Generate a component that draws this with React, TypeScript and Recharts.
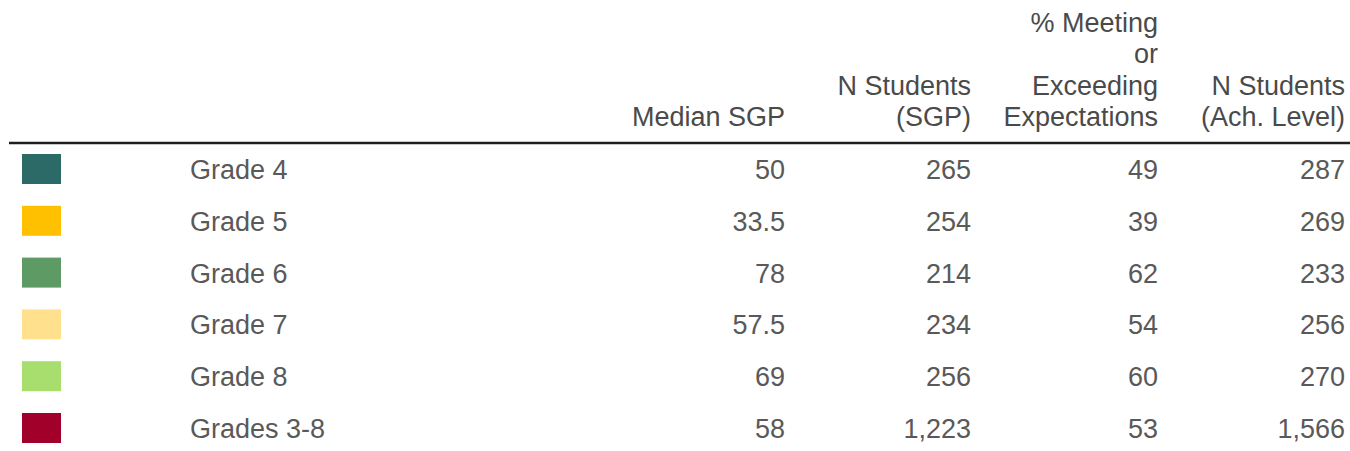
import React from "react";
import { ComposedChart, XAxis, YAxis, Scatter } from "recharts";

// ---- data ----
const GRADES = ["Grade 4", "Grade 5", "Grade 6", "Grade 7", "Grade 8", "Grades 3-8"];
const MEDIAN_SGP = ["50", "33.5", "78", "57.5", "69", "58"];
const N_STUDENTS_SGP = [265, 254, 214, 234, 256, 1223];
const PCT_MEETING = [49, 39, 62, 54, 60, 53];
const N_STUDENTS_ACH = [287, 269, 233, 256, 270, 1566];
const SWATCH_COLORS = ["#2b6a66", "#ffc000", "#5e9a64", "#ffe08c", "#a8de6e", "#a0002a"];
const HEADERS = [
  ["Median SGP"],
  ["N Students", "(SGP)"],
  ["% Meeting", "or", "Exceeding", "Expectations"],
  ["N Students", "(Ach. Level)"],
];

// ---- layout (column anchors in axis units) ----
const COL_SWATCH = 32.5;
const COL_LABEL = 181;
const COL_NUM = [776, 962, 1149, 1336];
const FONT = "'Liberation Sans', Arial, sans-serif";
const FS = 27;
const VALUE_COLOR = "#595959";
const HEAD_COLOR = "#4a4a4a";

const fmt = (n: number | string) =>
  typeof n === "number" ? n.toLocaleString("en-US") : n;

const numberCols = [MEDIAN_SGP, N_STUDENTS_SGP, PCT_MEETING, N_STUDENTS_ACH];

const swatchData = GRADES.map((g, i) => ({ grade: g, x: COL_SWATCH, color: SWATCH_COLORS[i] }));
const labelData = GRADES.map((g) => ({ grade: g, x: COL_LABEL, text: g }));
const colData = numberCols.map((col, c) =>
  GRADES.map((g, i) => ({ grade: g, x: COL_NUM[c], text: fmt(col[i] as any) }))
);

const SwatchShape = (props: any) => {
  const { cx, cy, payload } = props;
  return <rect x={cx - 19.5} y={cy - 15} width={39} height={30} fill={payload.color} />;
};

const makeTextShape = (anchor: "start" | "end") => (props: any) => {
  const { cx, cy, payload } = props;
  return (
    <text
      x={cx}
      y={cy + 10}
      textAnchor={anchor}
      fontFamily={FONT}
      fontSize={FS}
      fill={VALUE_COLOR}
    >
      {payload.text}
    </text>
  );
};

const HeaderTick = (props: any) => {
  const { x, y, payload } = props;
  const idx = COL_NUM.indexOf(payload.value);
  const lines = idx >= 0 ? HEADERS[idx] : [];
  const n = lines.length;
  return (
    <g>
      {lines.map((l, i) => (
        <text
          key={i}
          x={x}
          y={y - 17 - (n - 1 - i) * 31.3}
          textAnchor="end"
          fontFamily={FONT}
          fontSize={FS}
          fill={HEAD_COLOR}
        >
          {l}
        </text>
      ))}
    </g>
  );
};

export default function App() {
  return (
    <div
      style={{
        position: "fixed",
        left: 0,
        top: 0,
        width: 1350,
        height: 451,
        overflow: "hidden",
        background: "#fff",
      }}
    >
      <ComposedChart
        width={1350}
        height={454}
        layout="vertical"
        margin={{ top: 0, right: 0, bottom: 0, left: 9 }}
      >
        <XAxis
          type="number"
          dataKey="x"
          orientation="top"
          domain={[0, 1341]}
          ticks={COL_NUM}
          interval={0}
          height={143}
          tickLine={false}
          tickSize={0}
          tickMargin={0}
          axisLine={{ stroke: "#1e1e1e", strokeWidth: 2.5 }}
          tick={<HeaderTick />}
          allowDataOverflow
        />
        <YAxis
          type="category"
          dataKey="grade"
          hide
          allowDuplicatedCategory={false}
          padding={{ top: 26, bottom: 26 }}
          width={0}
        />
        <Scatter data={swatchData} shape={<SwatchShape />} isAnimationActive={false} />
        <Scatter data={labelData} shape={makeTextShape("start")} isAnimationActive={false} />
        {colData.map((d, c) => (
          <Scatter key={c} data={d} shape={makeTextShape("end")} isAnimationActive={false} />
        ))}
      </ComposedChart>
    </div>
  );
}
